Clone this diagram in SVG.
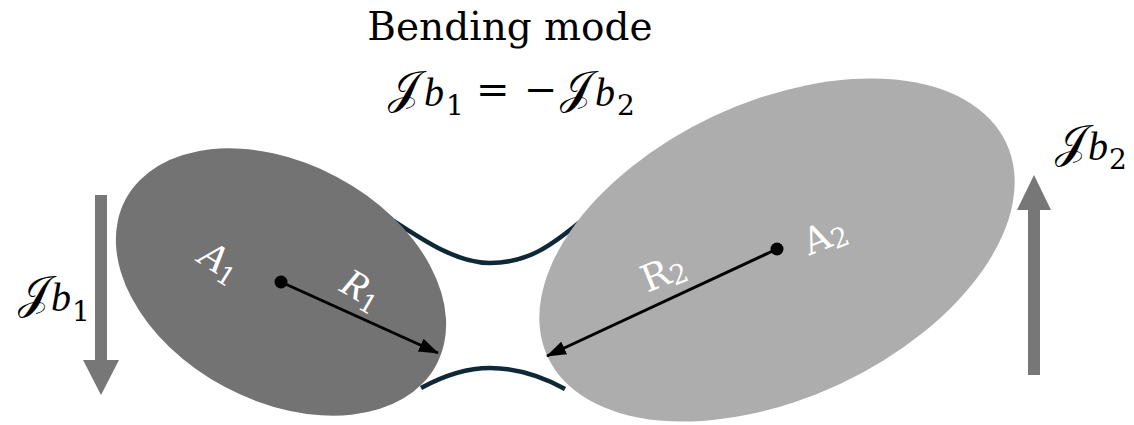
<svg xmlns="http://www.w3.org/2000/svg" width="1134" height="425" viewBox="0 0 1134 425">
<style>
.t{font-family:"DejaVu Serif","Liberation Serif",serif;fill:#000}
.w{font-family:"DejaVu Serif","Liberation Serif",serif;fill:#fff}
.it{font-family:"Liberation Serif",serif;font-style:italic}
.link{fill:none;stroke:#0E2838;stroke-width:4.5;stroke-linecap:butt}
.rad{stroke:#000;stroke-width:3;fill:none;marker-end:url(#ah)}
.big{fill:#777777}
</style>
<defs>
<marker id="ah" viewBox="0 0 20 14" refX="19" refY="7" markerWidth="20" markerHeight="14" markerUnits="userSpaceOnUse" orient="auto">
<path d="M0,0 L20,7 L0,14 z" fill="#000"/>
</marker>
</defs>
<rect width="1134" height="425" fill="#fff"/>

<g id="title">
<text class="t" x="510" y="40" font-size="39" text-anchor="middle">Bending mode</text>
<text class="t" font-size="46"><tspan x="388" y="103">𝒥</tspan><tspan class="it" x="424" y="106" font-size="40">b</tspan><tspan x="446" y="115" font-size="28">1</tspan><tspan x="476" y="103" font-size="40">=</tspan><tspan x="524" y="103" font-size="40">−</tspan><tspan x="560" y="103">𝒥</tspan><tspan class="it" x="595" y="106" font-size="40">b</tspan><tspan x="617" y="115" font-size="28">2</tspan></text>
</g>

<g id="connectors">
<path class="link" d="M383,214 C420,238 455,263 490,263 C528,263 552,245 580,222"/>
<path class="link" d="M421,388 C443,376 466,368 490,368 C520,368 545,378 565,389"/>
</g>

<g id="body1">
<ellipse cx="281" cy="282" rx="176" ry="119" transform="rotate(28 281 282)" fill="#737373"/>
<line class="rad" x1="281" y1="282" x2="438" y2="353"/>
<circle cx="281" cy="282" r="6.5" fill="#000"/>
<g transform="translate(220,263) rotate(32)">
<text class="w" font-size="38"><tspan class="it" x="-21" y="11" font-size="40">A</tspan><tspan font-size="26" dy="6">1</tspan></text>
</g>
<g transform="translate(360,290) rotate(30)">
<text class="w" font-size="38"><tspan class="it" x="-19" y="11" font-size="40">R</tspan><tspan font-size="26" dy="6">1</tspan></text>
</g>
</g>

<g id="body2">
<ellipse cx="777" cy="250" rx="253" ry="148" transform="rotate(-25 777 250)" fill="#ADADAD"/>
<line class="rad" x1="777" y1="249" x2="547" y2="356"/>
<circle cx="777" cy="249" r="6.5" fill="#000"/>
<g transform="translate(826,236) rotate(-22)">
<text class="w" font-size="37"><tspan x="-23" y="12">A</tspan><tspan font-size="27" dy="4">2</tspan></text>
</g>
<g transform="translate(664,273) rotate(-22)">
<text class="w" font-size="37"><tspan x="-23" y="12">R</tspan><tspan font-size="27" dy="4">2</tspan></text>
</g>
</g>

<g id="force1">
<polygon class="big" points="95,195 107,195 107,360 119,360 101,395 83,360 95,360"/>
<text class="t" font-size="46"><tspan x="18" y="308">𝒥</tspan><tspan class="it" x="51" y="311" font-size="40">b</tspan><tspan x="72" y="321" font-size="28">1</tspan></text>
</g>

<g id="force2">
<polygon class="big" points="1028,375 1040,375 1040,210 1051,210 1034,175 1017,210 1028,210"/>
<text class="t" font-size="46"><tspan x="1055" y="157">𝒥</tspan><tspan class="it" x="1088" y="160" font-size="40">b</tspan><tspan x="1109" y="169" font-size="28">2</tspan></text>
</g>
</svg>
